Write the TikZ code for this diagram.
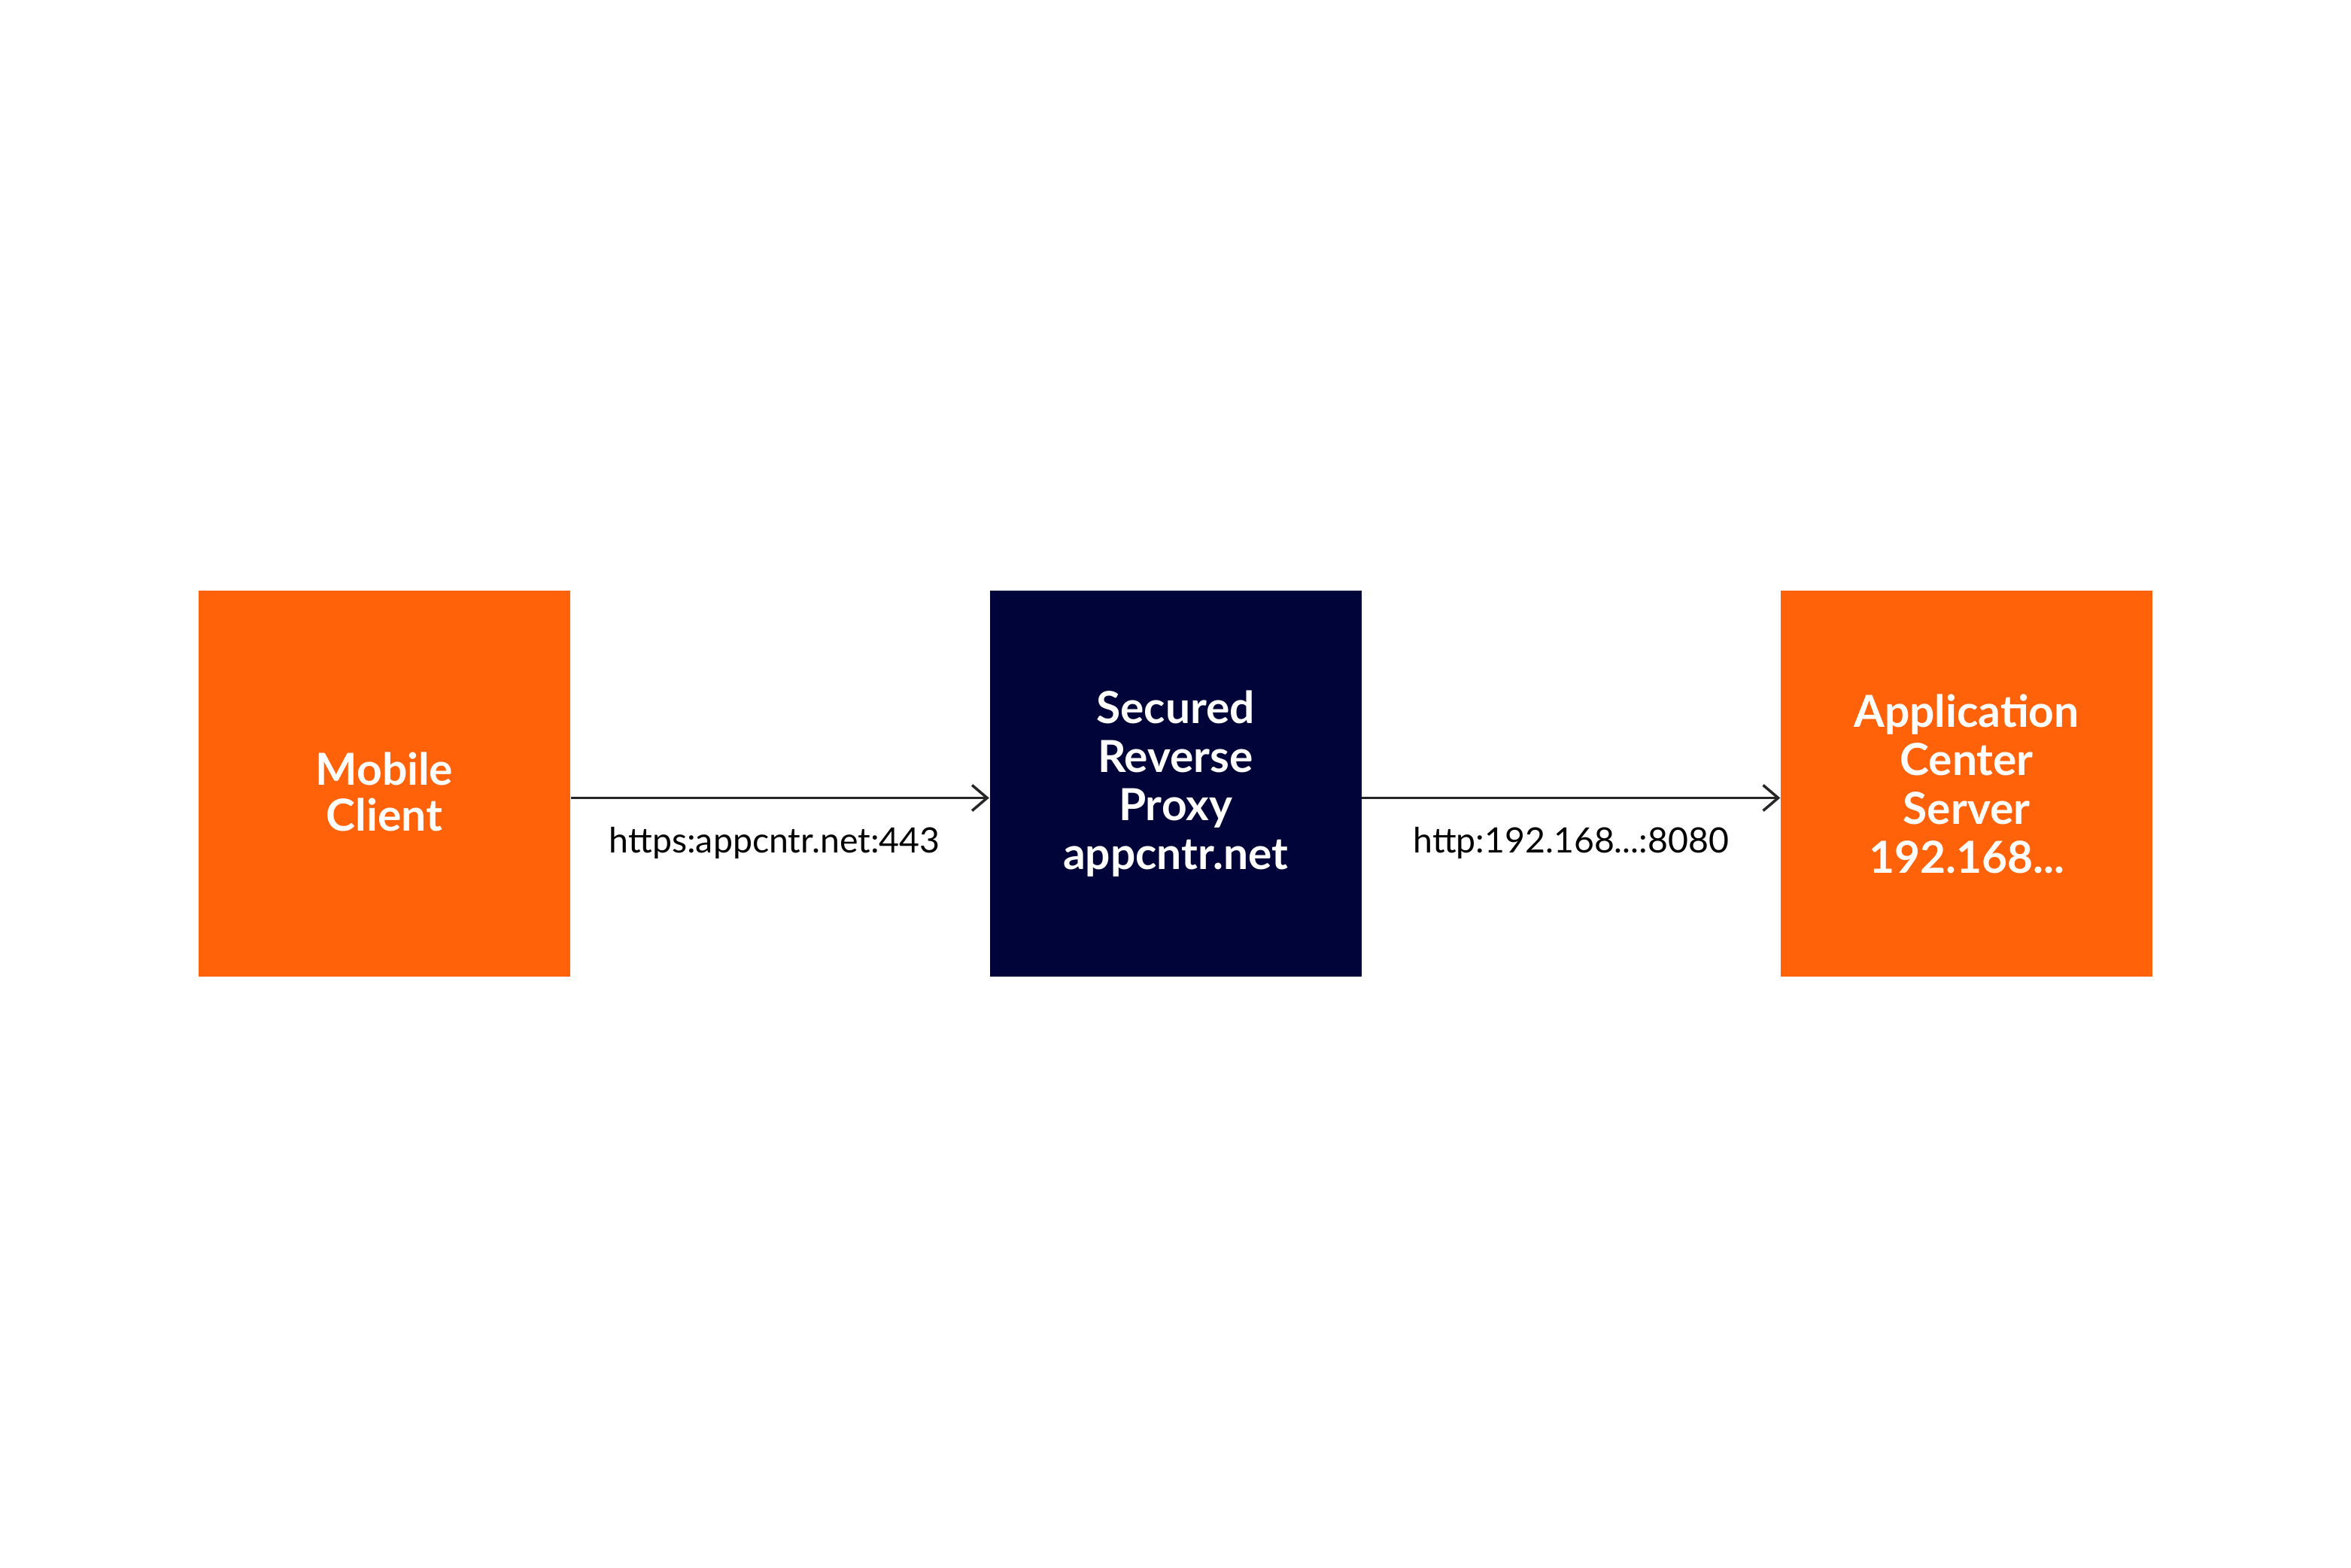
\documentclass[tikz,border=0pt]{standalone}
\usepackage{fontspec}
\setmainfont{Lato}
\usepackage{xcolor}
\usepackage{tikz}
\usetikzlibrary{arrows.meta}
\usetikzlibrary{positioning}
\definecolor{boxorange}{RGB}{255,98,9}
\definecolor{boxnavy}{RGB}{0,4,56}
\colorlet{arrowgray}{black!85}

\begin{document}
\begin{tikzpicture}[
MyBoxes/.style={minimum width=4.94cm,minimum height=5.13cm,inner sep=0pt,
  align=center,text=white,font=\fontsize{16.7}{18.4}\selectfont\bfseries},
MyArrows/.style={draw=arrowgray,line width=1pt,
  -{Straight Barb[length=2mm,width=3.4mm,line width=1pt]}},
MyLabels/.style={anchor=base,yshift=-0.73cm,text=black,
  font=\fontsize{13.2}{15}\selectfont},
every node/.style={scale=1}
]
\useasboundingbox (0,0) rectangle (31.25,20.83);

% the three boxes
\node[MyBoxes,fill=boxorange] (client) at (5.11,10.415) {\rule{0pt}{0.65cm}Mobile\\[-1pt]Client};
\node[MyBoxes,fill=boxnavy]   (proxy)  at (15.625,10.415) {Secured\\Reverse\\Proxy\\appcntr.net};
\node[MyBoxes,fill=boxorange] (server) at (26.14,10.415) {Application\\Center\\Server\\192.168...};

% connections
\draw[MyArrows] ([yshift=-0.19cm]client.east) -- ([yshift=-0.19cm]proxy.west)
  node[midway,MyLabels,xshift=-0.07cm] (https) {https:appcntr.net:443};
\draw[MyArrows] ([yshift=-0.19cm]proxy.east) -- ([yshift=-0.19cm]server.west)
  node[midway,MyLabels] (http) {http:192.168...:8080};

\end{tikzpicture}
\end{document}
